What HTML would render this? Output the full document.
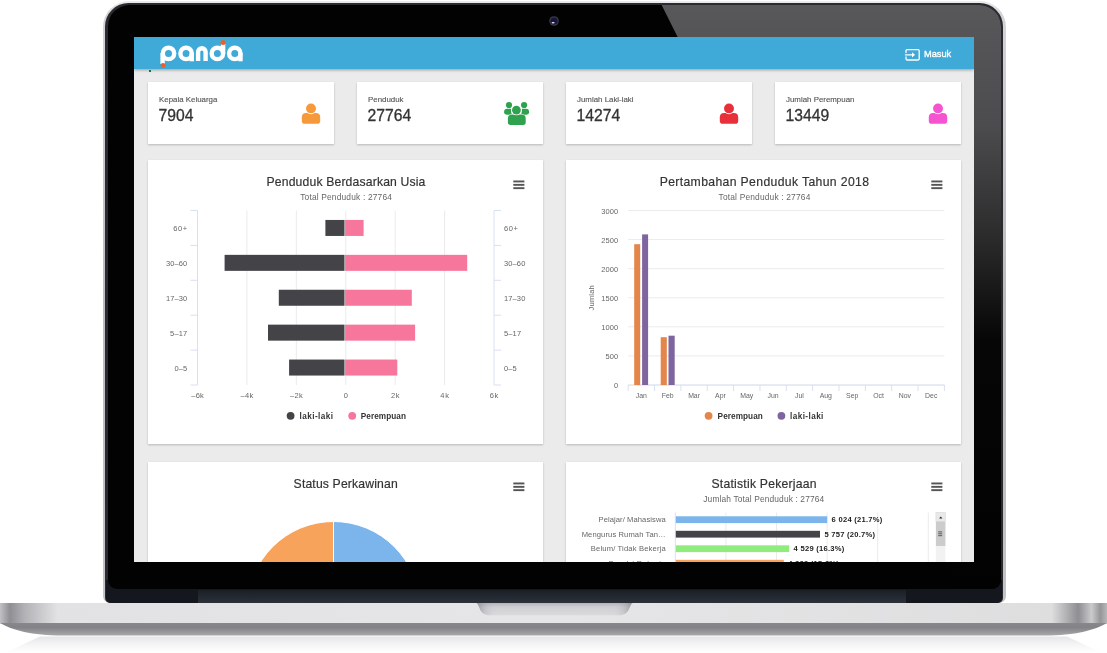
<!DOCTYPE html>
<html>
<head>
<meta charset="utf-8">
<title>panda</title>
<style>
html,body{margin:0;padding:0;background:#fff;}
body{width:1107px;height:653px;overflow:hidden;position:relative;font-family:"Liberation Sans",sans-serif;}
.abs{position:absolute;}
.card,.panel,#screen>svg{will-change:transform;}
#lid{position:absolute;left:102.5px;top:0.5px;width:903px;height:602.5px;border-radius:26px 26px 7px 7px;background:linear-gradient(180deg,#ececee 0,#d4d4d8 12px,#bcbcc0 300px,#c4c4c8 602px);}
#lid2{position:absolute;left:105.3px;top:3px;width:897.4px;height:600px;border-radius:23.5px 23.5px 5px 5px;background:#2a2b30;}
#navy{position:absolute;left:105.8px;top:580px;width:896.4px;height:23px;border-radius:0 0 5px 5px;background:#14171d;}
#bezel{position:absolute;left:107.6px;top:5px;width:893.4px;height:583.6px;border-radius:21.5px 21.5px 9px 9px;background:#020202;overflow:hidden;}
#gloss{position:absolute;left:0;top:0;width:894px;height:584px;background:linear-gradient(180deg,#58585a 0,#4c4c4e 120px,#2c2c2d 230px,#060606 335px,#020202 100%);clip-path:polygon(554px 0,894px 0,894px 584px,847px 584px);}
#hinge{position:absolute;left:198px;top:590px;width:708px;height:13px;background:linear-gradient(180deg,#1b1f26 0,#252a32 60%,#2c313a 100%);}
#screen{position:absolute;left:134px;top:37px;width:840px;height:525px;background:#ebebeb;overflow:hidden;}
#base{position:absolute;left:0;top:603px;width:1107px;height:33px;}
.card{position:absolute;top:45px;width:186px;height:62px;background:#fff;box-shadow:0 1px 2px rgba(0,0,0,.22);}
.card .lb{position:absolute;left:11px;top:13.1px;font-size:7.9px;color:#555;white-space:nowrap;line-height:10px;-webkit-text-stroke:0.12px #555;}
.card .nm{position:absolute;left:10.6px;top:24.1px;font-size:15.7px;color:#333;white-space:nowrap;line-height:20px;-webkit-text-stroke:0.3px #333;}
.panel{position:absolute;width:395px;height:284px;background:#fff;box-shadow:0 1px 2px rgba(0,0,0,.22);overflow:hidden;}
.t{position:absolute;white-space:nowrap;line-height:1;}
svg text{font-family:"Liberation Sans",sans-serif;}
.title{font-size:12.2px;fill:#333;stroke:#333;stroke-width:0.18px;}
.sub{font-size:8.4px;fill:#666;}
.ax{font-size:7.5px;fill:#666;}
.axm{font-size:6.9px;fill:#666;}
.axt{font-size:7.6px;fill:#666;}
.lg{font-size:8.2px;fill:#333;font-weight:bold;}
.axc{font-size:7.6px;fill:#666;}
.dl{font-size:7.6px;fill:#222;font-weight:bold;}
</style>
</head>
<body>
<!-- laptop lid -->
<div id="lid"></div>
<div id="lid2"></div>
<div id="navy"></div>
<div id="bezel"><div id="gloss"></div></div>
<div id="hinge"></div>
<!-- camera -->
<svg class="abs" style="left:548px;top:15px" width="12" height="12" viewBox="0 0 12 12"><circle cx="6" cy="6" r="4.8" fill="#3c3c42"/><circle cx="6" cy="6" r="3.6" fill="#14143c"/><rect x="3.8" y="7" width="2.6" height="1.4" fill="#d8d8ee"/></svg>

<!-- base -->
<svg id="base" width="1107" height="50" viewBox="0 0 1107 50" style="height:50px">
<defs>
<linearGradient id="bh" x1="0" x2="1" y1="0" y2="0">
<stop offset="0" stop-color="#c2c2c6"/><stop offset="0.009" stop-color="#8e8e93"/><stop offset="0.022" stop-color="#b2b2b6"/><stop offset="0.052" stop-color="#e2e2e4"/><stop offset="0.5" stop-color="#e6e6e8"/><stop offset="0.950" stop-color="#dededf"/><stop offset="0.974" stop-color="#8e8e93"/><stop offset="0.986" stop-color="#cacacc"/><stop offset="0.994" stop-color="#96969a"/><stop offset="1" stop-color="#b8b8bb"/>
</linearGradient>
<linearGradient id="bv" x1="0" x2="0" y1="0" y2="1">
<stop offset="0" stop-color="#87878c"/><stop offset="0.35" stop-color="#828287"/><stop offset="1" stop-color="#a8a8ac"/>
</linearGradient>
<linearGradient id="rf" x1="0" x2="0" y1="0" y2="1">
<stop offset="0" stop-color="#dcdcdf"/><stop offset="0.5" stop-color="#f2f2f3"/><stop offset="1" stop-color="#ffffff"/>
</linearGradient>
<linearGradient id="nh" x1="0" x2="1" y1="0" y2="0">
<stop offset="0" stop-color="#88888e" stop-opacity="0.75"/><stop offset="0.06" stop-color="#a0a0a6" stop-opacity="0.25"/><stop offset="0.12" stop-color="#c0c0c4" stop-opacity="0"/><stop offset="0.88" stop-color="#c0c0c4" stop-opacity="0"/><stop offset="0.94" stop-color="#a0a0a6" stop-opacity="0.25"/><stop offset="1" stop-color="#88888e" stop-opacity="0.75"/>
</linearGradient>
<linearGradient id="nt" x1="0" x2="0" y1="0" y2="1">
<stop offset="0" stop-color="#b4b4ba"/><stop offset="0.35" stop-color="#d0d0d4"/><stop offset="1" stop-color="#dadadd"/>
</linearGradient>
</defs>
<rect x="0" y="0" width="1107" height="20.5" fill="url(#bh)"/>
<path d="M0 20 L1107 20 C1095 27 1075 32.5 1045 32.5 L62 32.5 C32 32.5 12 27 0 20 Z" fill="url(#bv)"/>
<path d="M476.5 0 L632.5 0 C629 2 630 12.3 619 12.3 L490 12.3 C479 12.3 480 2 476.5 0 Z" fill="url(#nt)"/>
<path d="M476.5 0 L632.5 0 C629 2 630 12.3 619 12.3 L490 12.3 C479 12.3 480 2 476.5 0 Z" fill="url(#nh)"/>
<path d="M40 33.5 L1067 33.5 L1102 50 L5 50 Z" fill="url(#rf)" opacity="0.75"/>
</svg>

<!-- screen -->
<div id="screen">
  <div class="abs" style="left:0;top:0;width:840px;height:32px;background:#3fa9d8;box-shadow:0 1px 3px rgba(0,0,0,.35);z-index:5"></div>
  <div class="abs" style="left:15px;top:33px;width:2px;height:2px;background:#0a7d4a;z-index:6"></div>
  <!-- CONTENT -->

<svg class="abs" style="left:20px;top:2px;z-index:6" width="100" height="32" viewBox="154 39 100 32">
 <g fill="none" stroke="#fff" stroke-width="4.4">
  <circle cx="168.5" cy="53.45" r="5.7"/>
  <circle cx="186.1" cy="53.45" r="5.7"/>
  <path d="M198.1 61 V52 a3.75 3.75 0 0 1 7.5 0 V61"/>
  <circle cx="217.4" cy="53.45" r="5.7"/>
  <circle cx="234.8" cy="53.45" r="5.7"/>
 </g>
 <g fill="#fff">
  <rect x="160.4" y="53.4" width="4.4" height="10.6"/>
  <rect x="189.6" y="53.4" width="4.4" height="7.9"/>
  <rect x="220.9" y="44" width="4.4" height="9.6"/>
  <rect x="238.3" y="53.4" width="4.4" height="7.9"/>
 </g>
 <circle cx="163" cy="65.3" r="2.4" fill="#e8612c"/>
 <circle cx="223.0" cy="42.6" r="2.5" fill="#e8612c"/>
</svg>

<svg class="abs" style="left:768px;top:8px;z-index:6" width="60" height="18" viewBox="902 45 60 18">
 <g fill="none" stroke="#fff" stroke-width="1.3" stroke-linejoin="round" stroke-linecap="round">
  <path d="M906 52.6 V50.8 a1.2 1.2 0 0 1 1.2 -1.2 H918 a1.2 1.2 0 0 1 1.2 1.2 V58.8 a1.2 1.2 0 0 1 -1.2 1.2 H907.2 a1.2 1.2 0 0 1 -1.2 -1.2 V57"/>
  <path d="M905.4 54.8 H913.6"/>
 </g>
 <path d="M912 52.2 L915 54.8 L912 57.4 Z" fill="#fff"/>
 <text x="924" y="57.3" font-size="9.5" fill="#fff" stroke="#fff" stroke-width="0.35" textLength="27.2" lengthAdjust="spacingAndGlyphs" font-family="Liberation Sans, sans-serif">Masuk</text>
</svg>
<div class="card" style="left:14px"><div class="lb">Kepala Keluarga</div><div class="nm">7904</div><svg class="abs" style="left:151px;top:21px" width="24" height="24" viewBox="0 0 24 24">
<path d="M2.8 14.2 Q2.8 9.9 7.2 9.9 H16.8 Q21.2 9.9 21.2 14.2 V17.9 Q21.2 20.7 18.4 20.7 H5.6 Q2.8 20.7 2.8 17.9 Z" fill="#f6993a"/>
<circle cx="12" cy="5.4" r="5.85" fill="#fff"/>
<circle cx="12" cy="5.4" r="4.95" fill="#f6993a"/>
</svg></div>
<div class="card" style="left:223px"><div class="lb">Penduduk</div><div class="nm">27764</div><svg class="abs" style="left:144px;top:16px" width="32" height="30" viewBox="0 0 32 30">
<g fill="#2fa24f">
<path d="M3.1 14 Q3.1 10.8 6.2 10.8 H10.5 V16.75 H5.6 Q3.1 16.75 3.1 14.6 Z"/>
<path d="M28.1 14 Q28.1 10.8 25 10.8 H20.5 V16.75 H25.6 Q28.1 16.75 28.1 14.6 Z"/>
<circle cx="8" cy="7" r="3.1"/><circle cx="23.1" cy="7" r="3.1"/>
</g>
<circle cx="15.4" cy="12.1" r="5.4" fill="#fff"/>
<path d="M6.9 20.6 Q6.9 16.5 11 16.5 H20.6 Q24.7 16.5 24.7 20.6 V24.3 Q24.7 26.9 22.1 26.9 H9.5 Q6.9 26.9 6.9 24.3 Z" fill="#2fa24f" stroke="#fff" stroke-width="0.9" paint-order="stroke"/>
<circle cx="15.4" cy="12.1" r="5.25" fill="#fff"/>
<circle cx="15.4" cy="12.1" r="4.4" fill="#2fa24f"/>
</svg></div>
<div class="card" style="left:432px"><div class="lb">Jumlah Laki-laki</div><div class="nm">14274</div><svg class="abs" style="left:151px;top:21px" width="24" height="24" viewBox="0 0 24 24">
<path d="M2.8 14.2 Q2.8 9.9 7.2 9.9 H16.8 Q21.2 9.9 21.2 14.2 V17.9 Q21.2 20.7 18.4 20.7 H5.6 Q2.8 20.7 2.8 17.9 Z" fill="#e8303a"/>
<circle cx="12" cy="5.4" r="5.85" fill="#fff"/>
<circle cx="12" cy="5.4" r="4.95" fill="#e8303a"/>
</svg></div>
<div class="card" style="left:641px"><div class="lb">Jumlah Perempuan</div><div class="nm">13449</div><svg class="abs" style="left:151px;top:21px" width="24" height="24" viewBox="0 0 24 24">
<path d="M2.8 14.2 Q2.8 9.9 7.2 9.9 H16.8 Q21.2 9.9 21.2 14.2 V17.9 Q21.2 20.7 18.4 20.7 H5.6 Q2.8 20.7 2.8 17.9 Z" fill="#f653d0"/>
<circle cx="12" cy="5.4" r="5.85" fill="#fff"/>
<circle cx="12" cy="5.4" r="4.95" fill="#f653d0"/>
</svg></div>
<div class="panel" style="left:14px;top:123px"><svg width="395" height="284" viewBox="0 0 395 284"><text x="197.95" y="26.20" class="title" text-anchor="middle" textLength="158.9" lengthAdjust="spacing">Penduduk Berdasarkan Usia</text><text x="198.05" y="40.30" class="sub" text-anchor="middle" textLength="91.7" lengthAdjust="spacing">Total Penduduk : 27764</text><g fill="#555"><rect x="365.3" y="20.5" width="11.1" height="1.9"/><rect x="365.3" y="23.9" width="11.1" height="1.9"/><rect x="365.3" y="27.2" width="11.1" height="1.9"/></g><path d="M98.92 50.5 V225.0" stroke="#ebebeb" stroke-width="1"/><path d="M148.34 50.5 V225.0" stroke="#ebebeb" stroke-width="1"/><path d="M197.76 50.5 V225.0" stroke="#ebebeb" stroke-width="1"/><path d="M247.18 50.5 V225.0" stroke="#ebebeb" stroke-width="1"/><path d="M296.60 50.5 V225.0" stroke="#ebebeb" stroke-width="1"/><path d="M49.5 50.5 V225.0" stroke="#d9e0f0" stroke-width="1"/><path d="M346 50.5 V225.0" stroke="#d9e0f0" stroke-width="1"/><path d="M42.5 50.50 H49.5 M346 50.50 H353" stroke="#d9e0f0" stroke-width="1"/><path d="M42.5 85.40 H49.5 M346 85.40 H353" stroke="#d9e0f0" stroke-width="1"/><path d="M42.5 120.30 H49.5 M346 120.30 H353" stroke="#d9e0f0" stroke-width="1"/><path d="M42.5 155.20 H49.5 M346 155.20 H353" stroke="#d9e0f0" stroke-width="1"/><path d="M42.5 190.10 H49.5 M346 190.10 H353" stroke="#d9e0f0" stroke-width="1"/><path d="M42.5 225.00 H49.5 M346 225.00 H353" stroke="#d9e0f0" stroke-width="1"/><rect x="177.4" y="59.95" width="19.10" height="16" fill="#434348"/><rect x="197.1" y="59.95" width="18.50" height="16" fill="#f7769b"/><text x="39.20" y="71.15" class="ax" text-anchor="end" textLength="14.0" lengthAdjust="spacing">60+</text><text x="356.00" y="71.15" class="ax" text-anchor="start" textLength="14.0" lengthAdjust="spacing">60+</text><rect x="76.6" y="94.85" width="119.90" height="16" fill="#434348"/><rect x="197.1" y="94.85" width="122.10" height="16" fill="#f7769b"/><text x="39.20" y="106.05" class="ax" text-anchor="end" textLength="21.3" lengthAdjust="spacing">30–60</text><text x="356.00" y="106.05" class="ax" text-anchor="start" textLength="21.3" lengthAdjust="spacing">30–60</text><rect x="130.8" y="129.75" width="65.70" height="16" fill="#434348"/><rect x="197.1" y="129.75" width="66.70" height="16" fill="#f7769b"/><text x="39.20" y="140.95" class="ax" text-anchor="end" textLength="21.3" lengthAdjust="spacing">17–30</text><text x="356.00" y="140.95" class="ax" text-anchor="start" textLength="21.3" lengthAdjust="spacing">17–30</text><rect x="120.0" y="164.65" width="76.50" height="16" fill="#434348"/><rect x="197.1" y="164.65" width="70.00" height="16" fill="#f7769b"/><text x="39.20" y="175.85" class="ax" text-anchor="end" textLength="17.1" lengthAdjust="spacing">5–17</text><text x="356.00" y="175.85" class="ax" text-anchor="start" textLength="17.1" lengthAdjust="spacing">5–17</text><rect x="141.1" y="199.55" width="55.40" height="16" fill="#434348"/><rect x="197.1" y="199.55" width="52.20" height="16" fill="#f7769b"/><text x="39.20" y="210.75" class="ax" text-anchor="end" textLength="12.7" lengthAdjust="spacing">0–5</text><text x="356.00" y="210.75" class="ax" text-anchor="start" textLength="12.7" lengthAdjust="spacing">0–5</text><text x="49.50" y="238.10" class="ax" text-anchor="middle" textLength="12.6" lengthAdjust="spacing">–6k</text><text x="98.92" y="238.10" class="ax" text-anchor="middle" textLength="12.6" lengthAdjust="spacing">–4k</text><text x="148.34" y="238.10" class="ax" text-anchor="middle" textLength="12.6" lengthAdjust="spacing">–2k</text><text x="197.76" y="238.10" class="ax" text-anchor="middle">0</text><text x="247.18" y="238.10" class="ax" text-anchor="middle" textLength="8.6" lengthAdjust="spacing">2k</text><text x="296.60" y="238.10" class="ax" text-anchor="middle" textLength="8.6" lengthAdjust="spacing">4k</text><text x="346.02" y="238.10" class="ax" text-anchor="middle" textLength="8.6" lengthAdjust="spacing">6k</text><circle cx="142.6" cy="255.8" r="3.9" fill="#434348"/><text x="151.60" y="258.70" class="lg" text-anchor="start" textLength="33.4" lengthAdjust="spacing">laki-laki</text><circle cx="204.2" cy="255.8" r="3.9" fill="#f7769b"/><text x="212.80" y="258.70" class="lg" text-anchor="start" textLength="45.2" lengthAdjust="spacing">Perempuan</text></svg></div>
<div class="panel" style="left:432px;top:123px"><svg width="395" height="284" viewBox="0 0 395 284"><text x="198.30" y="26.20" class="title" text-anchor="middle" textLength="209.3" lengthAdjust="spacing">Pertambahan Penduduk Tahun 2018</text><text x="198.45" y="40.30" class="sub" text-anchor="middle" textLength="91.7" lengthAdjust="spacing">Total Penduduk : 27764</text><g fill="#555"><rect x="365.3" y="20.5" width="11.1" height="1.9"/><rect x="365.3" y="23.9" width="11.1" height="1.9"/><rect x="365.3" y="27.2" width="11.1" height="1.9"/></g><path d="M62.2 50.50 H378.4" stroke="#ebebeb" stroke-width="1"/><text x="52.10" y="53.90" class="ax" text-anchor="end" textLength="16.9" lengthAdjust="spacing">3000</text><path d="M62.2 79.58 H378.4" stroke="#ebebeb" stroke-width="1"/><text x="52.10" y="82.98" class="ax" text-anchor="end" textLength="16.9" lengthAdjust="spacing">2500</text><path d="M62.2 108.67 H378.4" stroke="#ebebeb" stroke-width="1"/><text x="52.10" y="112.07" class="ax" text-anchor="end" textLength="16.9" lengthAdjust="spacing">2000</text><path d="M62.2 137.75 H378.4" stroke="#ebebeb" stroke-width="1"/><text x="52.10" y="141.15" class="ax" text-anchor="end" textLength="16.9" lengthAdjust="spacing">1500</text><path d="M62.2 166.83 H378.4" stroke="#ebebeb" stroke-width="1"/><text x="52.10" y="170.23" class="ax" text-anchor="end" textLength="16.9" lengthAdjust="spacing">1000</text><path d="M62.2 195.91 H378.4" stroke="#ebebeb" stroke-width="1"/><text x="52.10" y="199.31" class="ax" text-anchor="end" textLength="12.7" lengthAdjust="spacing">500</text><path d="M62.2 225.00 H378.4" stroke="#ebebeb" stroke-width="1"/><text x="52.10" y="228.40" class="ax" text-anchor="end">0</text><path d="M62.2 225 H378.4" stroke="#d9e0f0" stroke-width="1"/><path d="M62.20 225 V231" stroke="#d9e0f0" stroke-width="1"/><path d="M88.55 225 V231" stroke="#d9e0f0" stroke-width="1"/><path d="M114.90 225 V231" stroke="#d9e0f0" stroke-width="1"/><path d="M141.25 225 V231" stroke="#d9e0f0" stroke-width="1"/><path d="M167.60 225 V231" stroke="#d9e0f0" stroke-width="1"/><path d="M193.95 225 V231" stroke="#d9e0f0" stroke-width="1"/><path d="M220.30 225 V231" stroke="#d9e0f0" stroke-width="1"/><path d="M246.65 225 V231" stroke="#d9e0f0" stroke-width="1"/><path d="M273.00 225 V231" stroke="#d9e0f0" stroke-width="1"/><path d="M299.35 225 V231" stroke="#d9e0f0" stroke-width="1"/><path d="M325.70 225 V231" stroke="#d9e0f0" stroke-width="1"/><path d="M352.05 225 V231" stroke="#d9e0f0" stroke-width="1"/><path d="M378.40 225 V231" stroke="#d9e0f0" stroke-width="1"/><text x="75.38" y="238.10" class="axm" text-anchor="middle">Jan</text><text x="101.72" y="238.10" class="axm" text-anchor="middle">Feb</text><text x="128.07" y="238.10" class="axm" text-anchor="middle">Mar</text><text x="154.43" y="238.10" class="axm" text-anchor="middle">Apr</text><text x="180.77" y="238.10" class="axm" text-anchor="middle">May</text><text x="207.12" y="238.10" class="axm" text-anchor="middle">Jun</text><text x="233.47" y="238.10" class="axm" text-anchor="middle">Jul</text><text x="259.82" y="238.10" class="axm" text-anchor="middle">Aug</text><text x="286.18" y="238.10" class="axm" text-anchor="middle">Sep</text><text x="312.52" y="238.10" class="axm" text-anchor="middle">Oct</text><text x="338.87" y="238.10" class="axm" text-anchor="middle">Nov</text><text x="365.22" y="238.10" class="axm" text-anchor="middle">Dec</text><rect x="68.2" y="84.2" width="6" height="140.8" fill="#e4864a"/><rect x="76.1" y="74.4" width="6" height="150.6" fill="#7e659f"/><rect x="94.7" y="177.2" width="6.1" height="47.8" fill="#e4864a"/><rect x="102.5" y="175.7" width="6.2" height="49.3" fill="#7e659f"/><text class="axt" text-anchor="middle" transform="translate(27.8,137.8) rotate(-90)" textLength="25.2" lengthAdjust="spacing">Jumlah</text><circle cx="142.6" cy="255.8" r="3.9" fill="#e4864a"/><text x="151.60" y="258.70" class="lg" text-anchor="start" textLength="45.2" lengthAdjust="spacing">Perempuan</text><circle cx="215.4" cy="255.8" r="3.9" fill="#7e659f"/><text x="224.00" y="258.70" class="lg" text-anchor="start" textLength="33.4" lengthAdjust="spacing">laki-laki</text></svg></div>
<div class="panel" style="left:14px;top:425px"><svg width="395" height="284" viewBox="0 0 395 284"><text x="197.65" y="26.40" class="title" text-anchor="middle" textLength="104.1" lengthAdjust="spacing">Status Perkawinan</text><g fill="#555"><rect x="365.3" y="20.5" width="11.1" height="1.9"/><rect x="365.3" y="23.9" width="11.1" height="1.9"/><rect x="365.3" y="27.2" width="11.1" height="1.9"/></g><path d="M185.5 145.5 L185.5 59.5 A86 86 0 0 1 271.5 145.5 Z" fill="#7cb5ec" stroke="#fff" stroke-width="1"/><path d="M185.5 145.5 L99.5 145.5 A86 86 0 0 1 185.5 59.5 Z" fill="#f7a35c" stroke="#fff" stroke-width="1"/></svg></div>
<div class="panel" style="left:432px;top:425px"><svg width="395" height="284" viewBox="0 0 395 284"><text x="198.00" y="26.10" class="title" text-anchor="middle" textLength="105.2" lengthAdjust="spacing">Statistik Pekerjaan</text><text x="197.75" y="40.20" class="sub" text-anchor="middle" textLength="120.9" lengthAdjust="spacing">Jumlah Total Penduduk : 27764</text><g fill="#555"><rect x="365.3" y="20.5" width="11.1" height="1.9"/><rect x="365.3" y="23.9" width="11.1" height="1.9"/><rect x="365.3" y="27.2" width="11.1" height="1.9"/></g><path d="M159.90 50.5 V110" stroke="#ebebeb" stroke-width="1"/><path d="M210.50 50.5 V110" stroke="#ebebeb" stroke-width="1"/><path d="M261.10 50.5 V110" stroke="#ebebeb" stroke-width="1"/><path d="M311.70 50.5 V110" stroke="#ebebeb" stroke-width="1"/><path d="M362.30 50.5 V110" stroke="#ebebeb" stroke-width="1"/><path d="M109.3 50.5 V110" stroke="#d9e0f0" stroke-width="1"/><rect x="109.8" y="54.30" width="151.40" height="6.8" fill="#7cb5ec"/><text x="99.70" y="60.20" class="axc" text-anchor="end" textLength="67.2" lengthAdjust="spacing">Pelajar/ Mahasiswa</text><text x="265.60" y="60.30" class="dl" text-anchor="start" textLength="50.7" lengthAdjust="spacing">6 024 (21.7%)</text><rect x="109.8" y="68.80" width="144.20" height="6.8" fill="#434348"/><text x="99.70" y="74.70" class="axc" text-anchor="end" textLength="84.0" lengthAdjust="spacing">Mengurus Rumah Tan…</text><text x="258.40" y="74.80" class="dl" text-anchor="start" textLength="50.7" lengthAdjust="spacing">5 757 (20.7%)</text><rect x="109.8" y="83.30" width="113.40" height="6.8" fill="#90ed7d"/><text x="99.70" y="89.20" class="axc" text-anchor="end" textLength="74.9" lengthAdjust="spacing">Belum/ Tidak Bekerja</text><text x="227.60" y="89.30" class="dl" text-anchor="start" textLength="50.7" lengthAdjust="spacing">4 529 (16.3%)</text><rect x="109.8" y="97.80" width="108.00" height="6.8" fill="#f7a35c"/><text x="99.70" y="103.70" class="axc" text-anchor="end" textLength="57.0" lengthAdjust="spacing">Buruh/ Pekerja</text><text x="222.20" y="103.80" class="dl" text-anchor="start" textLength="50.7" lengthAdjust="spacing">4 389 (15.8%)</text><rect x="369.9" y="50.3" width="9.5" height="70" fill="#f2f2f2"/><rect x="369.9" y="50.3" width="9.5" height="9.3" fill="#e9e9e9" stroke="#d8d8d8" stroke-width="0.5"/><path d="M373.2 56.5 L374.8 54.6 L376.4 56.5 Z" fill="#222"/><rect x="369.9" y="59.6" width="9.5" height="24.4" fill="#ccc"/><path d="M372.2 69.9 H376.2 M372.2 71.8 H376.2 M372.2 73.7 H376.2" stroke="#333" stroke-width="0.75"/></svg></div>
<!-- /CONTENT -->
</div>
</body>
</html>
